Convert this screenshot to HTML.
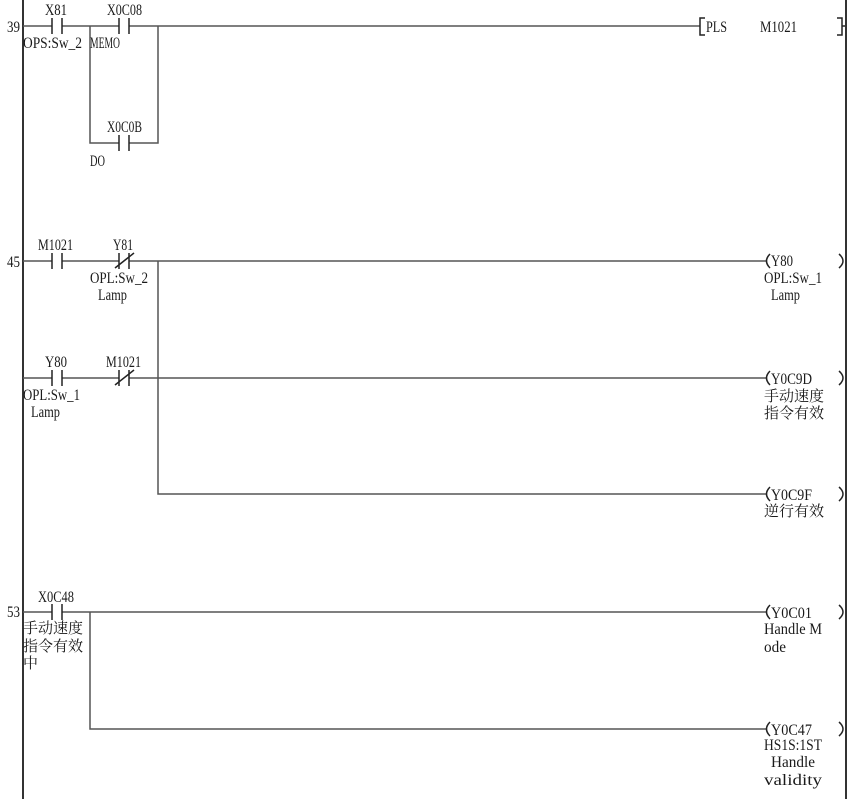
<!DOCTYPE html>
<html><head><meta charset="utf-8"><style>
html,body{margin:0;padding:0;background:#fff;}
svg{display:block;}
.t{font-family:"Liberation Serif","Noto Serif CJK SC",serif;font-size:16px;fill:#1a1a1a;}
.c{font-family:"Liberation Serif","Noto Serif CJK SC","Noto Sans CJK SC",serif;font-size:15px;fill:#1a1a1a;}
</style></head><body>
<svg width="860" height="799" viewBox="0 0 860 799" xmlns="http://www.w3.org/2000/svg">
<rect width="860" height="799" fill="#fff"/>
<g stroke="#333" stroke-width="2" fill="none">
<line x1="23" y1="0" x2="23" y2="799"/>
<line x1="846" y1="0" x2="846" y2="799"/>
</g>
<g stroke="#555" stroke-width="1.5" fill="none">
<polyline points="23,26 52,26"/>
<polyline points="62,26 119,26"/>
<polyline points="129,26 700,26"/>
<polyline points="90,26 90,143 119,143"/>
<polyline points="129,143 158,143 158,26"/>
<polyline points="23,261 52,261"/>
<polyline points="62,261 119,261"/>
<polyline points="129,261 766,261"/>
<polyline points="158,261 158,494 766,494"/>
<polyline points="23,378 52,378"/>
<polyline points="62,378 119,378"/>
<polyline points="129,378 766,378"/>
<polyline points="23,612 52,612"/>
<polyline points="62,612 766,612"/>
<polyline points="90,612 90,729 766,729"/>
</g>
<g stroke="#222" stroke-width="1.5" fill="none">
<line x1="52" y1="18" x2="52" y2="34"/><line x1="62" y1="18" x2="62" y2="34"/>
<line x1="119" y1="18" x2="119" y2="34"/><line x1="129" y1="18" x2="129" y2="34"/>
<line x1="119" y1="135" x2="119" y2="151"/><line x1="129" y1="135" x2="129" y2="151"/>
<line x1="52" y1="253" x2="52" y2="269"/><line x1="62" y1="253" x2="62" y2="269"/>
<line x1="119" y1="253" x2="119" y2="269"/><line x1="129" y1="253" x2="129" y2="269"/>
<line x1="115" y1="268" x2="134" y2="253"/>
<line x1="52" y1="370" x2="52" y2="386"/><line x1="62" y1="370" x2="62" y2="386"/>
<line x1="119" y1="370" x2="119" y2="386"/><line x1="129" y1="370" x2="129" y2="386"/>
<line x1="115" y1="385" x2="134" y2="370"/>
<line x1="52" y1="604" x2="52" y2="620"/><line x1="62" y1="604" x2="62" y2="620"/>
<polyline points="705,18 700,18 700,35 705,35"/>
<polyline points="837,18 842,18 842,35 837,35"/>
<line x1="842" y1="26" x2="845" y2="26"/>
<path d="M770,254 Q763,261 770,268"/>
<path d="M839,254 Q847,261 839,268"/>
<path d="M770,371 Q763,378 770,385"/>
<path d="M839,371 Q847,378 839,385"/>
<path d="M770,487 Q763,494 770,501"/>
<path d="M839,487 Q847,494 839,501"/>
<path d="M770,605 Q763,612 770,619"/>
<path d="M839,605 Q847,612 839,619"/>
<path d="M770,722 Q763,729 770,736"/>
<path d="M839,722 Q847,729 839,736"/>
</g>
<g class="t">
<text x="7" y="32" textLength="13" lengthAdjust="spacingAndGlyphs">39</text>
<text x="45" y="15" textLength="22" lengthAdjust="spacingAndGlyphs">X81</text>
<text x="23" y="48" textLength="59" lengthAdjust="spacingAndGlyphs">OPS:Sw_2</text>
<text x="107" y="15" textLength="35" lengthAdjust="spacingAndGlyphs">X0C08</text>
<text x="90" y="48" textLength="30" lengthAdjust="spacingAndGlyphs">MEMO</text>
<text x="107" y="132" textLength="35" lengthAdjust="spacingAndGlyphs">X0C0B</text>
<text x="90" y="166" textLength="15" lengthAdjust="spacingAndGlyphs">DO</text>
<text x="706" y="32" textLength="21" lengthAdjust="spacingAndGlyphs">PLS</text>
<text x="760" y="32" textLength="37" lengthAdjust="spacingAndGlyphs">M1021</text>

<text x="7" y="267" textLength="13" lengthAdjust="spacingAndGlyphs">45</text>
<text x="38" y="250" textLength="35" lengthAdjust="spacingAndGlyphs">M1021</text>
<text x="113" y="250" textLength="20" lengthAdjust="spacingAndGlyphs">Y81</text>
<text x="90" y="283" textLength="58" lengthAdjust="spacingAndGlyphs">OPL:Sw_2</text>
<text x="98" y="300" textLength="29" lengthAdjust="spacingAndGlyphs">Lamp</text>
<text x="45" y="367" textLength="22" lengthAdjust="spacingAndGlyphs">Y80</text>
<text x="106" y="367" textLength="35" lengthAdjust="spacingAndGlyphs">M1021</text>
<text x="23" y="400" textLength="57" lengthAdjust="spacingAndGlyphs">OPL:Sw_1</text>
<text x="31" y="417" textLength="29" lengthAdjust="spacingAndGlyphs">Lamp</text>

<text x="771" y="266" textLength="22" lengthAdjust="spacingAndGlyphs">Y80</text>
<text x="764" y="283" textLength="58" lengthAdjust="spacingAndGlyphs">OPL:Sw_1</text>
<text x="771" y="300" textLength="29" lengthAdjust="spacingAndGlyphs">Lamp</text>
<text x="771" y="384" textLength="41" lengthAdjust="spacingAndGlyphs">Y0C9D</text>
<text x="771" y="500" textLength="41" lengthAdjust="spacingAndGlyphs">Y0C9F</text>

<text x="7" y="617" textLength="13" lengthAdjust="spacingAndGlyphs">53</text>
<text x="38" y="602" textLength="36" lengthAdjust="spacingAndGlyphs">X0C48</text>
<text x="771" y="618" textLength="41" lengthAdjust="spacingAndGlyphs">Y0C01</text>
<text x="764" y="634" textLength="58" lengthAdjust="spacingAndGlyphs">Handle M</text>
<text x="764" y="652" textLength="22" lengthAdjust="spacingAndGlyphs">ode</text>
<text x="771" y="735" textLength="41" lengthAdjust="spacingAndGlyphs">Y0C47</text>
<text x="764" y="750" textLength="58" lengthAdjust="spacingAndGlyphs">HS1S:1ST</text>
<text x="771" y="767" textLength="44" lengthAdjust="spacingAndGlyphs">Handle</text>
<text x="764" y="785" textLength="58" lengthAdjust="spacingAndGlyphs">validity</text>
</g>
<g class="c">
<text x="764" y="401" textLength="60" lengthAdjust="spacingAndGlyphs">手动速度</text>
<text x="764" y="418" textLength="60" lengthAdjust="spacingAndGlyphs">指令有效</text>
<text x="764" y="516" textLength="60" lengthAdjust="spacingAndGlyphs">逆行有效</text>
<text x="23" y="633" textLength="60" lengthAdjust="spacingAndGlyphs">手动速度</text>
<text x="23" y="651" textLength="60" lengthAdjust="spacingAndGlyphs">指令有效</text>
<text x="23" y="668" textLength="15" lengthAdjust="spacingAndGlyphs">中</text>
</g>
</svg>
</body></html>
